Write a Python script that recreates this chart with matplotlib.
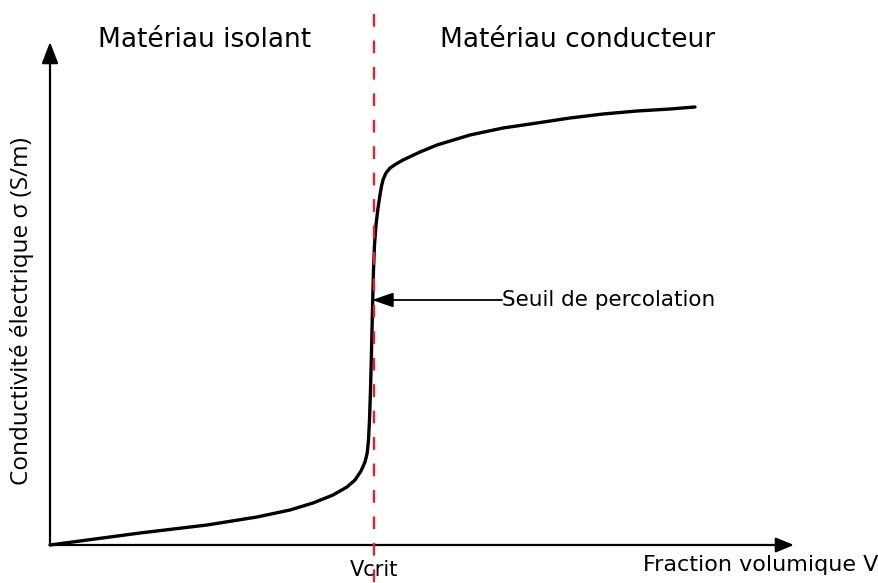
import matplotlib
matplotlib.use("Agg")
import matplotlib.pyplot as plt
import numpy as np

# Conductivity curve (volume fraction V, conductivity sigma), arbitrary units
frac_v = [0, 90, 157, 207, 240, 263, 283, 297, 305, 311, 315, 317.2, 318.5, 319.5,
          320.5, 321.3, 322, 322.7, 323.5, 324.5, 326, 328, 330, 331.5, 333.3, 336,
          340, 346, 353, 370, 387, 420, 453, 487, 520, 553, 587, 620, 645]
sigma = [0, 12, 20, 28, 35, 42, 50, 58, 65, 74, 83, 92, 105, 125,
         155, 185, 215, 245, 275, 300, 320, 337, 350, 359, 366, 372,
         377, 381, 385, 393, 400, 410, 417, 422, 427, 431, 434, 436, 438]

v_crit = 324
label_isolant = "Matériau isolant"
label_conducteur = "Matériau conducteur"
label_seuil = "Seuil de percolation"
label_x = "Fraction volumique V"
label_y = "Conductivité électrique σ (S/m)"
label_vcrit = "Vcrit"

fig = plt.figure(figsize=(8.79, 5.83), dpi=100)
ax = fig.add_axes([0, 0, 1, 1])
ax.set_xlim(-50, 829)
ax.set_ylim(-38, 545)
ax.axis("off")

# axes with arrows
ax.annotate("", xy=(744, 0), xytext=(0, 0),
            arrowprops=dict(arrowstyle="-|>,head_length=1.1,head_width=0.45",
                            lw=1.6, color="black", shrinkA=0, shrinkB=0))
ax.annotate("", xy=(0, 503), xytext=(0, 0),
            arrowprops=dict(arrowstyle="-|>,head_length=1.3,head_width=0.5",
                            lw=1.6, color="black", shrinkA=0, shrinkB=0))

# critical fraction line (drawn top-down so the dash pattern starts at the top)
ax.plot([v_crit, v_crit], [531, -40], color="#e8202a", lw=1.7,
        dashes=(5.4, 5.8), zorder=3)

# curve
ax.plot(frac_v, sigma, color="black", lw=2.4, solid_capstyle="round",
        solid_joinstyle="round", zorder=2)

# percolation arrow
ax.annotate("", xy=(322, 245), xytext=(452, 245),
            arrowprops=dict(arrowstyle="-|>,head_length=1.3,head_width=0.45",
                            lw=1.3, color="black", shrinkA=0, shrinkB=0), zorder=4)
ax.text(452, 245, label_seuil, fontsize=15.5, family="DejaVu Sans",
        ha="left", va="center")

ax.text(155, 505, label_isolant, fontsize=19, family="DejaVu Sans",
        ha="center", va="center")
ax.text(528, 505, label_conducteur, fontsize=19, family="DejaVu Sans",
        ha="center", va="center")

ax.text(v_crit, -25, label_vcrit, fontsize=15, family="DejaVu Sans",
        ha="center", va="center")
ax.text(828, -20, label_x, fontsize=16, family="DejaVu Sans",
        ha="right", va="center")
ax.text(-28, 234, label_y, fontsize=17.5, family="Open Sans",
        ha="center", va="center", rotation=90)

fig.savefig("out.png", dpi=100)
